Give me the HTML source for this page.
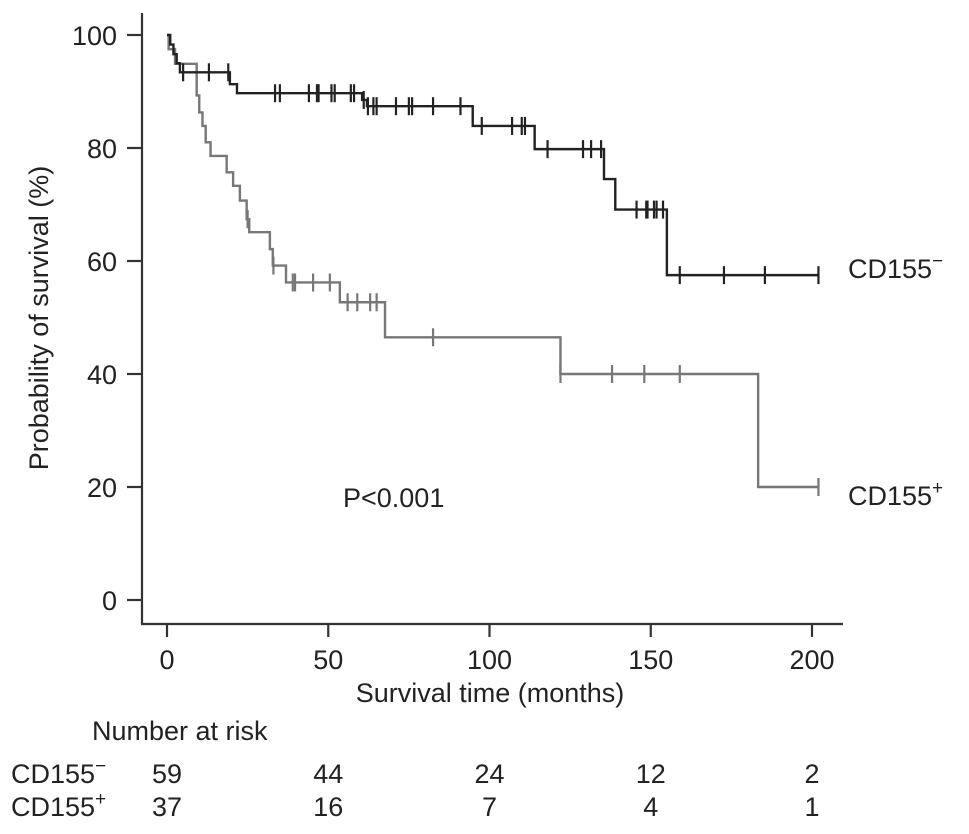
<!DOCTYPE html>
<html><head><meta charset="utf-8"><style>
body{margin:0;background:#fff}
svg{display:block;font-family:"Liberation Sans",Arial,sans-serif}
</style></head><body>
<svg id="chart" width="969" height="834" viewBox="0 0 969 834">
<g id="axes"></g>
<g id="plot"></g>
<g id="risk"></g>
</svg>
<script>
// Data
const xTicks=[0,50,100,150,200];
const yTicks=[0,20,40,60,80,100];
// CD155- (black) step curve: [time, survival]
const negTimes=[0,1,2,3,4,5.6,19.5,21.7,59.5,60.5,62,94.8,114,135.5,139,155,202];
const negSurv=[100,98.3,96.6,95,93.4,93.4,91.3,89.7,89.7,88.5,87.4,83.9,79.8,74.5,69.1,57.5,57.5];
const negCensor=[5,13,19,33.5,35,44,46.5,47,51,52,57,58,61,62.3,64,65,71,75,76,82.5,91,97.6,107,110,111,118,129,131.5,134.6,145.6,148.6,149,151,151.8,153.8,159,172.7,185.4,202];
// CD155+ (gray)
const posTimes=[0,0.5,2.5,5.6,9.2,10,11,12,13.5,18.5,20.5,22.6,24.7,25.5,31.9,32.8,36.9,53.6,67.6,122,183.3,202];
const posSurv=[100,97.5,94.9,94.9,89.3,86.3,83.9,81,78.6,75.7,73.3,70.7,67.4,65.1,62.1,59.2,56.2,52.7,46.5,40,20,20];
const posCensor=[25,33,39,39.7,45.3,50.5,56,59,63,65,82.5,122,138,148,159,202];
const riskNeg=[59,44,24,12,2];
const riskPos=[37,16,7,4,1];

const NS="http://www.w3.org/2000/svg";
const X=t=>167+t*3.225, Y=s=>600-s*5.65;
const FS=27;
function mk(tag,attrs,parent,text){const e=document.createElementNS(NS,tag);for(const k in attrs)e.setAttribute(k,attrs[k]);if(text!==undefined)e.textContent=text;parent.appendChild(e);return e;}
const axes=document.getElementById('axes'),plot=document.getElementById('plot'),risk=document.getElementById('risk');

let a=mk('line',{x1:142,y1:13,x2:142,y2:624,stroke:'#333','stroke-width':2.2},axes);


a=mk('line',{x1:141,y1:624,x2:843,y2:624,stroke:'#333','stroke-width':2.2},axes);


yTicks.forEach(v=>{
 const t=mk('line',{x1:127,y1:Y(v),x2:142,y2:Y(v),stroke:'#333','stroke-width':2.2},axes);
 
 
 const l=mk('text',{x:117,y:Y(v)+10,'text-anchor':'end','font-size':FS,fill:'#222'},axes,String(v));
 
 
});
xTicks.forEach(v=>{
 const t=mk('line',{x1:X(v),y1:624,x2:X(v),y2:637,stroke:'#333','stroke-width':2.2},axes);
 
 
 const l=mk('text',{x:X(v),y:669,'text-anchor':'middle','font-size':FS,fill:'#222'},axes,String(v));
 
 
});
a=mk('text',{x:490,y:702,'text-anchor':'middle','font-size':FS,fill:'#222'},axes,'Survival time (months)');


a=mk('text',{x:48,y:318,'text-anchor':'middle','font-size':FS,fill:'#222',transform:'rotate(-90 48 318)'},axes,'Probability of survival (%)');



function curve(times,surv,censor,color,name){
 let d='M'+X(times[0])+','+Y(surv[0]);
 for(let i=1;i<times.length;i++){d+=' H'+X(times[i])+' V'+Y(surv[i]);}
 const p=mk('path',{d:d,fill:'none',stroke:color,'stroke-width':2.4},plot);
 
 
 censor.forEach(c=>{
  let s=surv[0];
  for(let i=0;i<times.length;i++){if(times[i]<=c)s=surv[i];}
  const m=mk('line',{x1:X(c),y1:Y(s)-9,x2:X(c),y2:Y(s)+9,stroke:color,'stroke-width':2.2},plot);
  
  
 });
}
curve(posTimes,posSurv,posCensor,'#777','cd155-pos');
curve(negTimes,negSurv,negCensor,'#222','cd155-neg');

a=mk('text',{x:848,y:278,'font-size':FS,fill:'#222'},plot);
a.innerHTML='CD155<tspan dy="-11" font-size="19">−</tspan>';


a=mk('text',{x:848,y:505,'font-size':FS,fill:'#222'},plot);
a.innerHTML='CD155<tspan dy="-11" font-size="19">+</tspan>';


a=mk('text',{x:343,y:507,'font-size':FS,fill:'#222'},plot,'P<0.001');



a=mk('text',{x:92,y:740,'font-size':FS,fill:'#222'},risk,'Number at risk');


[['−',riskNeg,783],['+',riskPos,816]].forEach(([sg,vals,y])=>{
 const l=mk('text',{x:11,y:y,'font-size':FS,fill:'#222'},risk);
 l.innerHTML='CD155<tspan dy="-11" font-size="19">'+sg+'</tspan>';
 
 
 vals.forEach((v,i)=>{
  const n=mk('text',{x:X(xTicks[i]),y:y,'text-anchor':'middle','font-size':FS,fill:'#222'},risk,String(v));
  
  
 });
});
</script>
</body></html>
